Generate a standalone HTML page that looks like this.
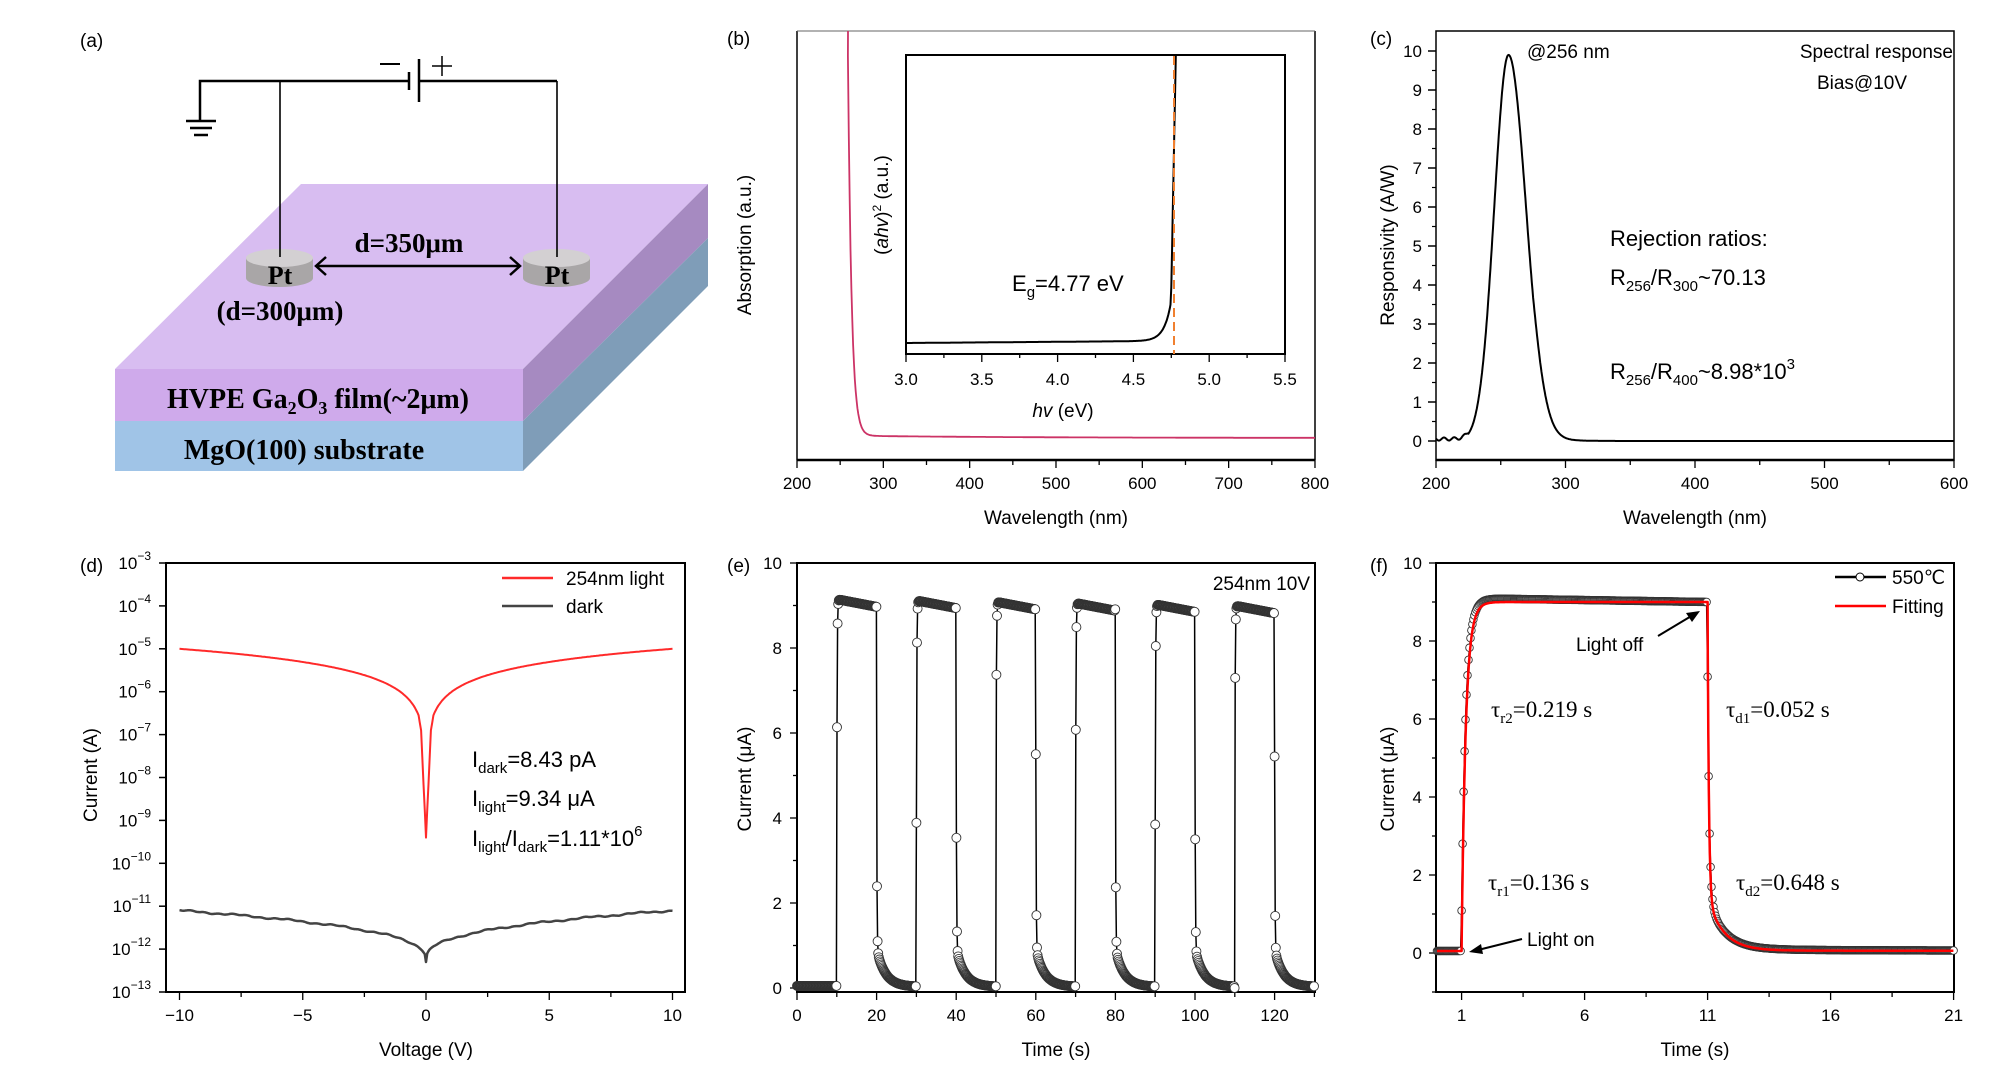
<!DOCTYPE html>
<html><head><meta charset="utf-8"><style>
html,body{margin:0;padding:0;background:#fff;}
svg{display:block;font-family:"Liberation Sans",sans-serif;}
.t{font-size:17px;fill:#000}
.ti{font-size:19px;fill:#000}
.lb{font-size:19px;fill:#000}
.an{font-size:22px;fill:#000}
.sr{font-family:"Liberation Serif",serif;font-size:23px;fill:#000}
.bs{font-family:"Liberation Serif",serif;font-weight:bold;fill:#000}
</style></head><body>
<svg id="s" width="2006" height="1082" viewBox="0 0 2006 1082" xmlns="http://www.w3.org/2000/svg">
<text x="80" y="47" class="lb">(a)</text>
<polygon points="115,369 301,184 708,184 523,369" fill="#d8bdf1"/>
<polygon points="115,369 523,369 523,421 115,421" fill="#cfaaeb"/>
<polygon points="115,421 523,421 523,471 115,471" fill="#a0c4e7"/>
<polygon points="523,369 708,184 708,238 523,421" fill="#a68ac1"/>
<polygon points="523,421 708,238 708,286 523,471" fill="#7f9db8"/>
<g stroke="#000" stroke-width="2.5" fill="none">
<polyline points="200,121 200,81 409,81"/>
<polyline points="419,81 557,81"/>
<line x1="409" y1="72" x2="409" y2="90"/>
<line x1="419" y1="59" x2="419" y2="102"/>
<line x1="186" y1="121" x2="216" y2="121"/>
<line x1="190" y1="128" x2="212" y2="128"/>
<line x1="194" y1="135" x2="208" y2="135"/>
<line x1="380" y1="64" x2="400" y2="64" stroke-width="2"/>
<line x1="432" y1="66" x2="452" y2="66" stroke-width="1.5"/>
<line x1="442" y1="56" x2="442" y2="76" stroke-width="1.5"/>
</g>
<g>
<path d="M246,258 L246,278 A33.5,9 0 0 0 313,278 L313,258 Z" fill="#a9a6a7"/>
<ellipse cx="279.5" cy="258" rx="33.5" ry="9" fill="#d3d0d2"/>
<path d="M523,258 L523,278 A33.5,9 0 0 0 590,278 L590,258 Z" fill="#a9a6a7"/>
<ellipse cx="556.5" cy="258" rx="33.5" ry="9" fill="#d3d0d2"/>
</g>
<g stroke="#000" stroke-width="1.6" fill="none">
<line x1="280" y1="81" x2="280" y2="257"/>
<line x1="557" y1="81" x2="557" y2="257"/>
<line x1="316" y1="266" x2="520" y2="266" stroke-width="2.5"/>
<polyline points="326,257 316,266 326,275" stroke-width="2.5"/>
<polyline points="510,257 520,266 510,275" stroke-width="2.5"/>
</g>
<text x="280" y="284" class="bs" font-size="26" text-anchor="middle">Pt</text>
<text x="557" y="284" class="bs" font-size="26" text-anchor="middle">Pt</text>
<text x="409" y="252" class="bs" font-size="27" text-anchor="middle">d=350μm</text>
<text x="280" y="320" class="bs" font-size="27" text-anchor="middle">(d=300μm)</text>
<text x="318" y="408" class="bs" font-size="28" text-anchor="middle">HVPE Ga<tspan font-size="18" dy="6">2</tspan><tspan dy="-6">O</tspan><tspan font-size="18" dy="6">3</tspan><tspan dy="-6"> film(~2μm)</tspan></text>
<text x="304" y="459" class="bs" font-size="28" text-anchor="middle">MgO(100) substrate</text>
<g id="g"></g>
</svg>
<script>
var o='';
function L(x1,y1,x2,y2,c,w,extra){o+='<line x1="'+x1+'" y1="'+y1+'" x2="'+x2+'" y2="'+y2+'" stroke="'+(c||'#000')+'" stroke-width="'+(w||1.5)+'" '+(extra||'')+'/>';}
function T(x,y,s,cls,anc,extra){o+='<text x="'+x+'" y="'+y+'" class="'+cls+'" text-anchor="'+(anc||'start')+'" '+(extra||'')+'>'+s+'</text>';}
function P(pts,c,w){var d='M'+pts.map(function(p){return p[0].toFixed(1)+','+p[1].toFixed(1)}).join('L');o+='<path d="'+d+'" fill="none" stroke="'+c+'" stroke-width="'+w+'" stroke-linejoin="round"/>';}
function C(pts,r){pts.forEach(function(p){o+='<circle cx="'+p[0].toFixed(1)+'" cy="'+p[1].toFixed(1)+'" r="'+r+'" fill="#fff" stroke="#333" stroke-width="0.9"/>';});}
function box(l,t,r,b,w){o+='<rect x="'+l+'" y="'+t+'" width="'+(r-l)+'" height="'+(b-t)+'" fill="none" stroke="#000" stroke-width="'+(w||2)+'"/>';}
function ytitle(x,y,s){o+='<text x="'+x+'" y="'+y+'" class="ti" text-anchor="middle" transform="rotate(-90 '+x+' '+y+')">'+s+'</text>';}

// ---------- Panel b ----------
T(727,45,'(b)','lb');
L(797,31,797,460,'#000',1.5);L(797,460,1315,460,'#000',2.5);L(1315,31,1315,460,'#000',1.5);L(797,31,1315,31,'#666',1);
for(var w=200;w<=800;w+=50){var x=797+(w-200)*0.8633;L(x,460,x,w%100?465:468,'#000',1.3);if(w%100==0)T(x,489,w,'t','middle');}
T(1056,524,'Wavelength (nm)','ti','middle');
ytitle(751,245,'Absorption (a.u.)');
var pb=[[848,31]];for(var w=259;w<=800;w+=1){var a=438+(-2)*Math.exp(-(w-290)/200);var y= w<300? a - 380*Math.exp(-(w-259)/4.2) : a; if(y<31)y=31; pb.push([797+(w-200)*0.8633,y]);}
P(pb,'#cc3366',1.8);
box(906,55,1285,354,2);
for(var e=3.0;e<=5.51;e+=0.25){var x=906+(e-3)/2.5*379;var maj=Math.abs(e*2-Math.round(e*2))<0.01;L(x,354,x,maj?362:358,'#000',1.3);if(maj)T(x,385,e.toFixed(1),'t','middle');}
T(1063,417,'<tspan font-style="italic">hv</tspan> (eV)','ti','middle');
ytitle(888,205,'(<tspan font-style="italic">ahv</tspan>)<tspan font-size="12" dy="-7">2</tspan><tspan dy="7"> (a.u.)</tspan>');
var pi=[];for(var e=3.0;e<=4.78;e+=0.005){var y=343-1.2*(e-3)-26*Math.exp((e-4.73)/0.045);if(e>4.745)y=Math.min(y,326-(e-4.745)/0.035*272);if(y<56)y=56;pi.push([906+(e-3)/2.5*379,y]);}
P(pi,'#000',2);
L(1174,56,1174,354,'#f08030',2,'stroke-dasharray="9,5"');
T(1012,291,'E<tspan font-size="15" dy="6">g</tspan><tspan dy="-6">=4.77 eV</tspan>','an');

// ---------- Panel c ----------
T(1370,45,'(c)','lb');
box(1436,31,1954,460,1.5);L(1436,460,1954,460,'#000',2.5);
function cy(v){return 441-39*v;}
for(var v=0;v<=10;v++){L(1436,cy(v),1428,cy(v));T(1422,cy(v)+6,v,'t','end');if(v<10)L(1436,cy(v+0.5),1432,cy(v+0.5),'#000',1.2);}
for(var w=200;w<=600;w+=50){var x=1436+(w-200)*1.295;L(x,460,x,w%100?465:468,'#000',1.3);if(w%100==0)T(x,489,w,'t','middle');}
T(1695,524,'Wavelength (nm)','ti','middle');
ytitle(1394,245,'Responsivity (A/W)');
var pc=[];for(var w=200;w<=600;w+=0.5){var s=w<256?11:13.5;var v=9.9*Math.exp(-Math.pow((w-256)/s,2)/2);if(w>275)v+=0.25*Math.exp(-(w-275)/12)*(1-Math.exp(-(w-275)/5));if(w<225)v+=0.05+0.04*Math.sin(w*0.8);pc.push([1436+(w-200)*1.295,cy(v)]);}
P(pc,'#000',2);
T(1527,58,'@256 nm','ti');
T(1953,58,'Spectral response','ti','end');
T(1862,89,'Bias@10V','ti','middle');
T(1610,246,'Rejection ratios:','an');
T(1610,285,'R<tspan font-size="15" dy="6">256</tspan><tspan dy="-6">/R</tspan><tspan font-size="15" dy="6">300</tspan><tspan dy="-6">~70.13</tspan>','an');
T(1610,379,'R<tspan font-size="15" dy="6">256</tspan><tspan dy="-6">/R</tspan><tspan font-size="15" dy="6">400</tspan><tspan dy="-6">~8.98*10</tspan><tspan font-size="15" dy="-10">3</tspan>','an');

// ---------- Panel d ----------
T(80,572,'(d)','lb');
box(166,563,685,992,2);
function dy(lg){return 563+(-3-lg)*42.9;}
for(var k=3;k<=13;k++){var y=dy(-k);L(166,y,159,y);T(151,y+6,'10<tspan font-size="12" dy="-9">−'+k+'</tspan>','t','end');}
for(var v=-10;v<=10;v+=2.5){var x=426+v*24.65;L(x,992,x,v%5?997:1000,'#000',1.3);if(v%5==0)T(x,1021,(v<0?'−':'')+Math.abs(v),'t','middle');}
T(426,1056,'Voltage (V)','ti','middle');
ytitle(97,775,'Current (A)');
var pr=[],pd=[];
for(var v=-10;v<=10.001;v+=0.05){var a=Math.abs(v);var lg;if(a>=0.3){lg=-5+1.02*Math.log10(a/10);}else{lg=-6.55-0.35*(0.3-a)/0.1;if(a<0.2)lg=-6.9-2.5*(0.2-a)/0.2;}pr.push([426+v*24.65,dy(lg)]);
var ld=-11.1-1.2*(1-Math.pow(a/10,0.35))+0.015*Math.sin(v*3.1)+0.01*Math.sin(v*11);pd.push([426+v*24.65,dy(ld)]);}
P(pr,'#ff2a2a',2);P(pd,'#444',2.5);
L(502,578,553,578,'#ff2a2a',2.5);T(566,585,'254nm light','ti');
L(502,606,553,606,'#444',2.5);T(566,613,'dark','ti');
T(472,767,'I<tspan font-size="15" dy="6">dark</tspan><tspan dy="-6">=8.43 pA</tspan>','an');
T(472,806,'I<tspan font-size="15" dy="6">light</tspan><tspan dy="-6">=9.34 μA</tspan>','an');
T(472,846,'I<tspan font-size="15" dy="6">light</tspan><tspan dy="-6">/I</tspan><tspan font-size="15" dy="6">dark</tspan><tspan dy="-6">=1.11*10</tspan><tspan font-size="15" dy="-10">6</tspan>','an');

// ---------- Panel e ----------
T(727,572,'(e)','lb');
box(797,563,1315,992,2);
function ey(v){return 988-42.5*v;}
for(var v=0;v<=10;v+=1){L(797,ey(v),v%2?793:790,ey(v),'#000',1.3);if(v%2==0)T(782,ey(v)+6,v,'t','end');}
for(var t=0;t<=130;t+=10){var x=797+t*3.98;L(x,992,x,t%20?997:1000,'#000',1.3);if(t%20==0)T(x,1021,t,'t','middle');}
T(1056,1056,'Time (s)','ti','middle');
ytitle(751,779,'Current (μA)');
T(1310,590,'254nm 10V','ti','end');
var pe=[];
function ev(t){if(t<10)return 0.05;var k=Math.floor((t-10)/20);var t0=10+20*k;var hi=9.15-0.03*k;if(t-t0<10){var s=t-t0;return hi*(1-Math.exp(-s/0.09))-0.18*s/10;}var s=t-t0-10;var top=hi-0.18;return 0.03+top*(0.9*Math.exp(-s/0.09)+0.1*Math.exp(-s/2.2));}
for(var t=0;t<=130;t+=0.15){pe.push([797+t*3.98,ey(ev(t+0.05))]);}
P(pe,'#000',1.5);C(pe,4.5);

// ---------- Panel f ----------
T(1370,572,'(f)','lb');
box(1436,563,1954,992,2);
function fy(v){return 953-39*v;}
for(var v=-1;v<=10;v++){L(1436,fy(v),v%2?1432:1429,fy(v),'#000',1.3);if(v>=0&&v%2==0)T(1422,fy(v)+6,v,'t','end');}
for(var t=1;t<=21;t+=2.5){var x=1437+t*24.6;L(x,992,x,(t-1)%5?997:1000,'#000',1.3);if((t-1)%5==0)T(x,1021,t,'t','middle');}
T(1695,1056,'Time (s)','ti','middle');
ytitle(1394,779,'Current (μA)');
function fv(t,fit){if(t<1)return 0.05;if(t<11){var s=t-1;return 0.05+(fit?8.95:9.05-0.1*s/10)*(1-0.55*Math.exp(-s/0.136)-0.45*Math.exp(-s/0.219));}var s=t-11;var top=fit?9.0:8.95;return 0.06+(top-0.06)*(0.85*Math.exp(-s/(fit?0.052:0.07))+0.15*Math.exp(-s/0.648))+(fit?0:0.05*Math.exp(-s/4));}
var pf=[],pff=[];
for(var t=0;t<=21;t+=0.04){pf.push([1437+t*24.6,fy(fv(t+0.02,0))]);}
for(var t=0;t<=21;t+=0.01){pff.push([1437+t*24.6,fy(fv(t,1))]);}
P(pf,'#000',1.5);C(pf,3.8);P(pff,'#ff0000',2.5);
L(1835,577,1886,577,'#000',2.5);o+='<circle cx="1860" cy="577" r="4" fill="#fff" stroke="#000" stroke-width="1"/>';T(1892,584,'550℃','ti');
L(1835,606,1886,606,'#ff0000',2.5);T(1892,613,'Fitting','ti');
T(1576,651,'Light off','ti');
L(1658,636,1693,615,'#000',2);o+='<polygon points="1700,611 1686,613 1692,622" fill="#000"/>';
T(1527,946,'Light on','ti');
L(1522,939,1478,950,'#000',2);o+='<polygon points="1469,952 1481,944 1483,954" fill="#000"/>';
T(1491,717,'τ<tspan font-size="15" dy="6">r2</tspan><tspan dy="-6">=0.219 s</tspan>','sr');
T(1726,717,'τ<tspan font-size="15" dy="6">d1</tspan><tspan dy="-6">=0.052 s</tspan>','sr');
T(1488,890,'τ<tspan font-size="15" dy="6">r1</tspan><tspan dy="-6">=0.136 s</tspan>','sr');
T(1736,890,'τ<tspan font-size="15" dy="6">d2</tspan><tspan dy="-6">=0.648 s</tspan>','sr');
document.getElementById('g').innerHTML=o;
</script>
</body></html>
